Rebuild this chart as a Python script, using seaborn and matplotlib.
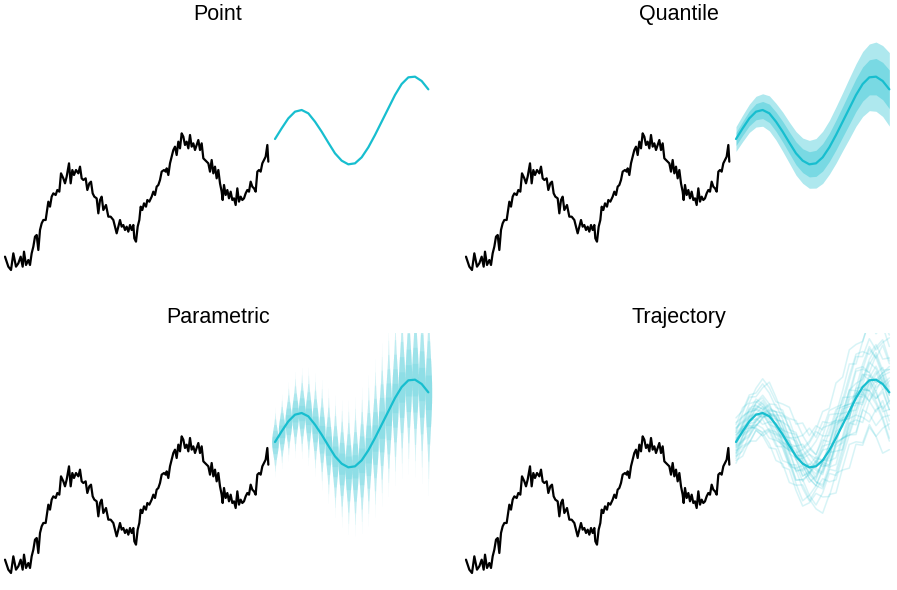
import numpy as np
import pandas as pd
import matplotlib
matplotlib.use("Agg")
import matplotlib.pyplot as plt
import seaborn as sns

# ---------------- data ----------------
# history: time and value
hist_t = [0, 10, 18, 25, 33, 40, 47, 53, 57, 63, 70, 75, 80, 85, 90, 95, 100, 105, 110, 115,
          122, 130, 135, 140, 145, 152, 157, 163, 168, 175, 180, 185, 192, 197, 202, 207, 213, 220, 225, 230,
          235, 242, 247, 253, 258, 263, 268, 275, 280, 285, 290, 295, 303, 310, 317, 325, 330, 335, 340, 345,
          350, 355, 360, 365, 370, 375, 380, 385, 388, 393, 398, 403, 407, 412, 417, 423, 427, 433, 440, 445,
          450, 455, 460, 465, 470, 477, 482, 485, 490, 495, 500, 505, 510, 515, 520, 525, 530, 535, 540, 545,
          550, 555, 560, 565, 570, 575, 580, 585, 590, 595, 600, 605, 610, 615, 620, 625, 630, 635, 640, 645,
          650, 653, 657, 662, 667, 672, 677, 682, 687, 692, 697, 702, 707, 712, 717, 722, 727, 732, 737, 742,
          747, 752, 757, 762, 767, 772, 777, 782, 787, 790]
hist_v = [40, 10, 0, 50, 10, 20, 40, 10, 55, 15, 30, 15, 50, 70, 100, 105, 60, 120, 140, 150,
          150, 205, 190, 220, 230, 225, 240, 235, 290, 275, 260, 280, 320, 260, 300, 285, 300, 290, 310, 275,
          270, 275, 240, 260, 265, 230, 220, 215, 170, 210, 220, 180, 195, 160, 160, 150, 130, 110, 130, 150,
          130, 135, 120, 130, 115, 135, 120, 135, 95, 85, 130, 150, 190, 180, 200, 190, 210, 205, 220, 235,
          225, 250, 255, 270, 295, 300, 295, 305, 285, 320, 340, 360, 370, 345, 385, 365, 410, 400, 375, 385,
          365, 405, 370, 380, 360, 375, 390, 360, 380, 335, 330, 325, 320, 295, 330, 290, 310, 275, 300, 260,
          235, 210, 255, 225, 240, 215, 235, 210, 215, 195, 245, 205, 220, 210, 215, 230, 240, 235, 265, 250,
          245, 235, 295, 300, 295, 320, 330, 340, 375, 325]

# forecast: time, mean, spread (sigma)
fc_t = [810 + 20 * k for k in range(24)]
fc_mean = [393, 425, 455, 475, 480, 470, 445, 415, 382, 350, 328, 317,
           320, 338, 368, 405, 445, 485, 525, 558, 578, 580, 567, 542]
fc_sigma = [29, 31, 33, 36, 38, 41, 43, 46, 48, 51, 53, 56,
            58, 61, 63, 66, 68, 71, 73, 76, 78, 81, 83, 86]

# sample trajectories: deviation from the mean in tenths of sigma
traj_z = [
    [5, 8, 3, 10, 12, 6, 9, 14, 11, 7, 4, 9, 13, 16, 12, 8, 11, 15, 18, 14, 10, 13, 9, 12],
    [-6, -10, -4, -12, -15, -9, -13, -17, -11, -8, -14, -18, -12, -9, -15, -19, -14, -10, -7, -12, -16, -11, -8, -13],
    [12, 18, 22, 15, 20, 25, 19, 13, 17, 21, 16, 11, 6, 10, 4, 8, 2, -3, 1, 5, 0, -4, 2, -1],
    [-14, -8, -12, -5, 0, -6, -2, 4, -1, 6, 2, -4, 1, 7, 3, 9, 5, 0, -5, -2, -8, -4, -10, -6],
    [2, -3, 5, 1, -4, 3, -2, -7, -3, 2, 8, 4, -1, -6, -2, 3, 7, 2, -3, 1, 6, 10, 5, 8],
    [20, 14, 9, 13, 7, 2, 6, 0, -5, -1, -7, -3, 3, -2, -8, -12, -6, -10, -15, -9, -13, -17, -12, -16],
    [-22, -16, -20, -13, -18, -11, -15, -8, -12, -5, -10, -3, -7, 0, -4, 3, -1, 5, 1, 7, 3, 9, 4, 8],
    [8, 2, -4, -9, -5, -11, -7, -2, 3, 0, 5, 10, 6, 12, 17, 11, 15, 20, 14, 18, 23, 17, 21, 16],
    [-3, 4, 0, 7, 3, 9, 14, 10, 5, 11, 16, 21, 15, 19, 13, 8, 12, 6, 1, -4, 0, -5, -9, -3],
    [15, 10, 16, 11, 5, -1, 4, -3, -8, -14, -9, -15, -20, -16, -11, -17, -12, -7, -2, -6, -1, 3, -2, 4],
    [-9, -14, -19, -13, -18, -23, -17, -21, -15, -20, -24, -19, -14, -18, -22, -16, -20, -24, -19, -23, -18, -21, -25, -20],
    [0, 6, 11, 5, 10, 4, -1, 3, 8, 13, 9, 14, 19, 24, 20, 25, 21, 26, 22, 18, 23, 19, 24, 20],
    [-17, -11, -6, -10, -3, 2, -3, 1, -4, -9, -3, 2, -2, -7, -1, -6, -11, -5, -9, -14, -8, -12, -6, -10],
    [10, 15, 9, 4, 8, 2, 7, 12, 16, 10, 5, 0, -6, -1, -7, -3, 2, 6, 11, 7, 12, 8, 3, 7],
    [-5, 1, -6, -11, -16, -10, -5, -9, -13, -7, -1, -6, -10, -4, 2, 7, 3, -2, 4, 9, 13, 8, 14, 10],
    [25, 20, 24, 18, 23, 17, 12, 16, 10, 14, 8, 13, 18, 12, 7, 11, 5, 9, 3, -2, 2, -3, 1, -4],
    [-11, -5, 1, -4, 2, 8, 3, 9, 4, -2, -7, -2, -8, -13, -9, -15, -10, -5, -11, -6, -1, -7, -2, -6],
    [4, -2, -8, -3, -9, -4, 1, -5, -11, -16, -21, -15, -10, -14, -9, -4, -8, -3, 2, -3, -8, -2, 3, -1],
    [18, 23, 17, 22, 27, 21, 16, 20, 24, 19, 23, 17, 21, 15, 19, 14, 9, 13, 17, 12, 16, 11, 15, 19],
    [-19, -24, -18, -22, -16, -20, -25, -19, -23, -17, -12, -17, -22, -26, -21, -25, -19, -14, -18, -22, -17, -21, -16, -11],
    [3, -1, 4, 0, -3, 1, 5, 2, -2, 1, 4, 0, -4, -1, 3, 6, 2, -2, 1, 5, 2, -1, 3, 0],
    [-2, 2, -3, 1, 5, 2, -1, -5, -2, 3, 0, -3, 2, 5, 1, -3, -6, -2, 2, -1, -4, 0, 4, 1],
    [7, 3, 8, 4, 0, 5, 9, 6, 2, -2, 3, 7, 4, 0, -3, 1, 5, 9, 6, 3, 7, 4, 0, 5],
    [-8, -4, -9, -5, -1, -6, -10, -7, -3, 1, -4, -8, -5, -1, 3, -2, -6, -9, -5, -1, -4, -7, -3, -6],
    [10, 4, -2, -6, -1, 4, 9, 5, 1, 6, 11, 7, 2, -3, -7, -2, 3, 8, 12, 8, 3, -1, 4, 9],
    [-12, -6, 0, 5, 1, -4, -9, -5, 0, 4, -1, -6, -10, -5, -1, 4, 8, 3, -2, -7, -3, 2, 6, 2],
    [1, 7, 12, 8, 3, -2, -6, -1, 5, 9, 4, -1, 3, 8, 12, 7, 2, -3, -7, -3, 1, 5, 1, -3],
    [-4, -9, -14, -9, -4, 1, 6, 2, -3, -8, -4, 1, 5, 0, -5, -9, -5, 0, 4, 0, -4, -8, -12, -8],
    [14, 9, 5, 10, 14, 9, 4, 8, 12, 7, 2, -3, 1, 5, 9, 13, 8, 3, -1, 3, 8, 12, 16, 11],
    [-15, -19, -13, -8, -12, -16, -11, -6, -10, -14, -9, -4, -8, -12, -7, -2, -6, -10, -14, -9, -5, -9, -13, -17],
]

titles = ["Point", "Quantile", "Parametric", "Trajectory"]

# ---------------- styling ----------------
CYAN = "#17becf"
sns.set_theme(style="white")
plt.rcParams["font.family"] = ["Liberation Sans", "DejaVu Sans"]

W, H = 897, 590
fig = plt.figure(figsize=(W / 100, H / 100), dpi=100)


def axes_px(left, top, width, height):
    return fig.add_axes([left / W, 1 - (top + height) / H, width / W, height / H])


axes = [axes_px(0, 30, 436, 250), axes_px(461, 30, 436, 250),
        axes_px(0, 333, 436, 250), axes_px(461, 333, 436, 250)]

hist_df = pd.DataFrame({"t": hist_t, "v": hist_v})
fc_df = pd.DataFrame({"t": fc_t, "mean": fc_mean, "sigma": fc_sigma})
mean = np.array(fc_mean, float)
sig = np.array(fc_sigma, float)
tt = np.array(fc_t, float)

rows = []
for i, z in enumerate(traj_z):
    for t, m, s, zz in zip(fc_t, fc_mean, fc_sigma, z):
        rows.append({"traj": i, "t": t, "v": m + zz / 10 * s})
traj_df = pd.DataFrame(rows)

for ax, title in zip(axes, titles):
    ax.set_xlim(-15, 1293)
    ax.set_ylim(-30, 720)
    ax.axis("off")
    ax.set_title(title, fontsize=15.5, pad=7.5, color="black")
    sns.lineplot(data=hist_df, x="t", y="v", color="black", lw=1.6, ax=ax, legend=False)

    if title == "Quantile":
        for q in (1.2816, 0.6745):
            ax.fill_between(tt, mean - q * sig, mean + q * sig, color=CYAN, alpha=0.35, lw=0)
    elif title == "Parametric":
        # density "spikes": gradient built from stacked layers
        for zmax in (3.6, 3.0, 2.4, 1.8, 1.2, 0.6):
            zs = np.linspace(-zmax, zmax, 201)
            half = 10.0 * np.exp(-(zs / 1.3) ** 2 / 2)
            for t, m, s in zip(tt, mean, sig):
                ax.fill_betweenx(m + zs * s, t - half, t + half, color=CYAN, alpha=0.10, lw=0)
    elif title == "Trajectory":
        sns.lineplot(data=traj_df, x="t", y="v", units="traj", estimator=None,
                     color=CYAN, alpha=0.17, lw=1.1, ax=ax, legend=False)

    sns.lineplot(data=fc_df, x="t", y="mean", color=CYAN, lw=1.6, ax=ax, legend=False)

fig.savefig("out.png", dpi=100)
